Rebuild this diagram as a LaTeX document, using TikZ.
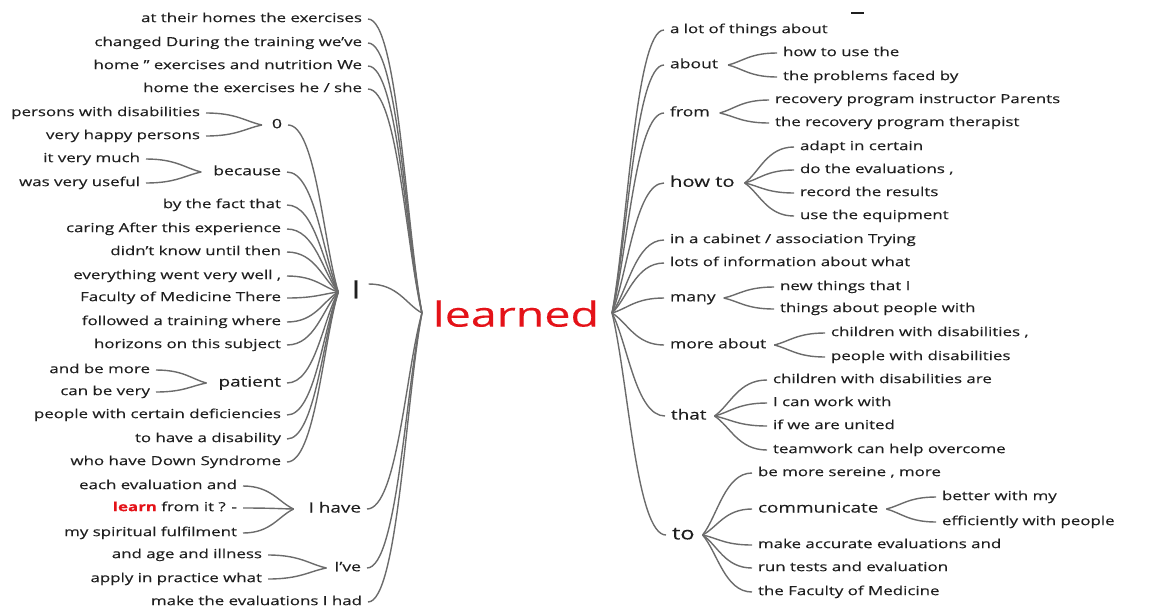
\documentclass[tikz,border=0pt]{standalone}
\usepackage{fontspec}
\setmainfont[FakeStretch=1.35, FakeBold=0.3]{Open Sans}
\usetikzlibrary{calc}
\definecolor{txt}{gray}{0.12}
\definecolor{lnk}{gray}{0.42}
\definecolor{lred}{RGB}{228,18,24}
\newcommand\wtlink[2]{\draw[link] let \p1=(#1), \p2=(#2) in (\p1) .. controls ({\x1+0.55*(\x2-\x1)},\y1) and ({\x2+0.3*(\x1-\x2)},{\y2+0.3*(\y1-\y2)}) .. (\p2);}
\newcommand\lkL[2]{\wtlink{[xshift=6pt]#1.east}{#2}}
\newcommand\lkR[2]{\wtlink{[xshift=-6pt]#1.west}{#2}}
\begin{document}
\begin{tikzpicture}[x=1pt,y=-1pt,
  every node/.style={inner sep=0pt, outer sep=0pt, text=txt,
    font=\fontsize{12.5}{14}\selectfont, text height=9pt, text depth=2.75pt},
  lt/.style={anchor=east}, rt/.style={anchor=west},
  s13/.style={font=\fontsize{13}{15}\selectfont, text height=9.4pt, text depth=2.9pt},
  s14/.style={font=\fontsize{14}{16}\selectfont, text height=10.1pt, text depth=3.1pt},
  s15/.style={font=\fontsize{15}{17}\selectfont, text height=10.8pt, text depth=3.3pt},
  s17/.style={font=\fontsize{17.5}{19}\selectfont, text height=12.6pt, text depth=3.85pt},
  sI/.style={font=\fontsize{25}{27}\selectfont, text height=18pt, text depth=5.5pt},
  sL/.style={font=\fontsize{34.5}{36}\selectfont, text height=24.8pt, text depth=7.6pt},
  link/.style={draw=lnk, line width=1.4pt}]
\useasboundingbox (0,0) rectangle (1155,614);
% root
\node[sL, text=lred] (learned) at (516,318) {learned};
\coordinate (LJ) at ([xshift=-11pt,yshift=5pt]learned.west);
\coordinate (RJ) at ([xshift=13pt,yshift=5pt]learned.east);
% ---------- left side ----------
\node[lt] (l1) at (362,19) {at their homes the exercises};
\node[lt] (l2) at (362,43) {changed During the training we've};
\node[lt] (l3) at (362,66) {home " exercises and nutrition We};
\node[lt] (l4) at (362,89) {home the exercises he / she};
\node[sI] (I) at (356,292) {I};
\coordinate (IJ) at ([xshift=-13pt]I.west);
\node[lt,s13] (zero) at (282,125) {0};
\coordinate (zeroJ) at ([xshift=-10pt]zero.west);
\node[lt] (z1) at (200,113) {persons with disabilities};
\node[lt] (z2) at (200,136) {very happy persons};
\node[lt,s13] (bec) at (281,172) {because};
\coordinate (becJ) at ([xshift=-12pt]bec.west);
\node[lt] (b1) at (140,159) {it very much};
\node[lt] (b2) at (140,183) {was very useful};
\node[lt] (i1) at (281,205) {by the fact that};
\node[lt] (i2) at (281,229) {caring After this experience};
\node[lt] (i3) at (281,252) {didn't know until then};
\node[lt] (i4) at (281,276) {everything went very well ,};
\node[lt] (i5) at (281,298) {Faculty of Medicine There};
\node[lt] (i6) at (281,322) {followed a training where};
\node[lt] (i7) at (281,345) {horizons on this subject};
\node[lt,s14] (pat) at (281,383) {patient};
\coordinate (patJ) at ([xshift=-12pt]pat.west);
\node[lt] (p1) at (150,370) {and be more};
\node[lt] (p2) at (150,392) {can be very};
\node[lt] (i8) at (281,415) {people with certain deficiencies};
\node[lt] (i9) at (281,439) {to have a disability};
\node[lt] (i10) at (281,462) {who have Down Syndrome};
\node[lt,s14] (ih) at (361,509) {I have};
\coordinate (ihJ) at ([xshift=-15pt]ih.west);
\node[lt] (h1) at (237,486) {each evaluation and};
\node[lt] (h2) at (237,508) {{\color{lred}\bfseries learn} from it ? -};
\node[lt] (h3) at (237,533) {my spiritual fulfilment};
\node[lt,s13] (iv) at (361,568) {I've};
\coordinate (ivJ) at ([xshift=-8pt]iv.west);
\node[lt] (v1) at (262,555) {and age and illness};
\node[lt] (v2) at (262,579) {apply in practice what};
\node[lt] (l5) at (362,602) {make the evaluations I had};
% ---------- right side ----------
\node[rt] (r1) at (670,30) {a lot of things about};
\node[rt,s13] (ab) at (670,65) {about};
\coordinate (abJ) at ([xshift=10pt]ab.east);
\node[rt] (ab1) at (783,53) {how to use the};
\node[rt] (ab2) at (783,77) {the problems faced by};
\node[rt,s13] (fr) at (670,113) {from};
\coordinate (frJ) at ([xshift=10pt]fr.east);
\node[rt] (fr1) at (775,100) {recovery program instructor Parents};
\node[rt] (fr2) at (775,123) {the recovery program therapist};
\node[rt,s15] (ht) at (670,183) {how to};
\coordinate (htJ) at ([xshift=10pt]ht.east);
\node[rt] (ht1) at (800,147) {adapt in certain};
\node[rt] (ht2) at (800,170) {do the evaluations ,};
\node[rt] (ht3) at (800,193) {record the results};
\node[rt] (ht4) at (800,216) {use the equipment};
\node[rt] (r2) at (670,240) {in a cabinet / association Trying};
\node[rt] (r3) at (670,263) {lots of information about what};
\node[rt,s13] (ma) at (670,298) {many};
\coordinate (maJ) at ([xshift=8pt]ma.east);
\node[rt] (ma1) at (780,287) {new things that I};
\node[rt] (ma2) at (780,309) {things about people with};
\node[rt,s13] (mo) at (670,345) {more about};
\coordinate (moJ) at ([xshift=8pt]mo.east);
\node[rt] (mo1) at (831,333) {children with disabilities ,};
\node[rt] (mo2) at (831,357) {people with disabilities};
\node[rt,s14] (th) at (671,416) {that};
\coordinate (thJ) at ([xshift=8pt]th.east);
\node[rt] (th1) at (773,380) {children with disabilities are};
\node[rt] (th2) at (773,403) {I can work with};
\node[rt] (th3) at (773,426) {if we are united};
\node[rt] (th4) at (773,450) {teamwork can help overcome};
\node[rt,s17] (to) at (672,535) {to};
\coordinate (toJ) at ([xshift=8pt]to.east);
\node[rt] (to1) at (758,473) {be more sereine , more};
\node[rt,s14] (cm) at (758,509) {communicate};
\coordinate (cmJ) at ([xshift=8pt]cm.east);
\node[rt] (cm1) at (942,497) {better with my};
\node[rt] (cm2) at (942,522) {efficiently with people};
\node[rt] (to2) at (758,545) {make accurate evaluations and};
\node[rt] (to3) at (758,568) {run tests and evaluation};
\node[rt] (to4) at (758,592) {the Faculty of Medicine};
% small mark at top
\draw[line width=1.6pt, draw=txt] (851,13) -- (864,13);
% ---------- links left ----------
\lkL{l1}{LJ} \lkL{l2}{LJ} \lkL{l3}{LJ} \lkL{l4}{LJ}
\wtlink{[xshift=8pt,yshift=8pt]I.east}{LJ}
\lkL{ih}{LJ} \lkL{iv}{LJ} \lkL{l5}{LJ}
\lkL{zero}{IJ} \lkL{bec}{IJ}
\lkL{i1}{IJ} \lkL{i2}{IJ} \lkL{i3}{IJ} \lkL{i4}{IJ} \lkL{i5}{IJ} \lkL{i6}{IJ} \lkL{i7}{IJ}
\lkL{pat}{IJ} \lkL{i8}{IJ} \lkL{i9}{IJ} \lkL{i10}{IJ}
\lkL{z1}{zeroJ} \lkL{z2}{zeroJ}
\lkL{b1}{becJ} \lkL{b2}{becJ}
\lkL{p1}{patJ} \lkL{p2}{patJ}
\lkL{h1}{ihJ} \lkL{h2}{ihJ} \lkL{h3}{ihJ}
\lkL{v1}{ivJ} \lkL{v2}{ivJ}
% ---------- links right ----------
\lkR{r1}{RJ} \lkR{ab}{RJ} \lkR{fr}{RJ} \lkR{ht}{RJ} \lkR{r2}{RJ} \lkR{r3}{RJ}
\lkR{ma}{RJ} \lkR{mo}{RJ} \lkR{th}{RJ} \lkR{to}{RJ}
\lkR{ab1}{abJ} \lkR{ab2}{abJ}
\lkR{fr1}{frJ} \lkR{fr2}{frJ}
\lkR{ht1}{htJ} \lkR{ht2}{htJ} \lkR{ht3}{htJ} \lkR{ht4}{htJ}
\lkR{ma1}{maJ} \lkR{ma2}{maJ}
\lkR{mo1}{moJ} \lkR{mo2}{moJ}
\lkR{th1}{thJ} \lkR{th2}{thJ} \lkR{th3}{thJ} \lkR{th4}{thJ}
\lkR{to1}{toJ} \lkR{cm}{toJ} \lkR{to2}{toJ} \lkR{to3}{toJ} \lkR{to4}{toJ}
\lkR{cm1}{cmJ} \lkR{cm2}{cmJ}
\end{tikzpicture}
\end{document}
